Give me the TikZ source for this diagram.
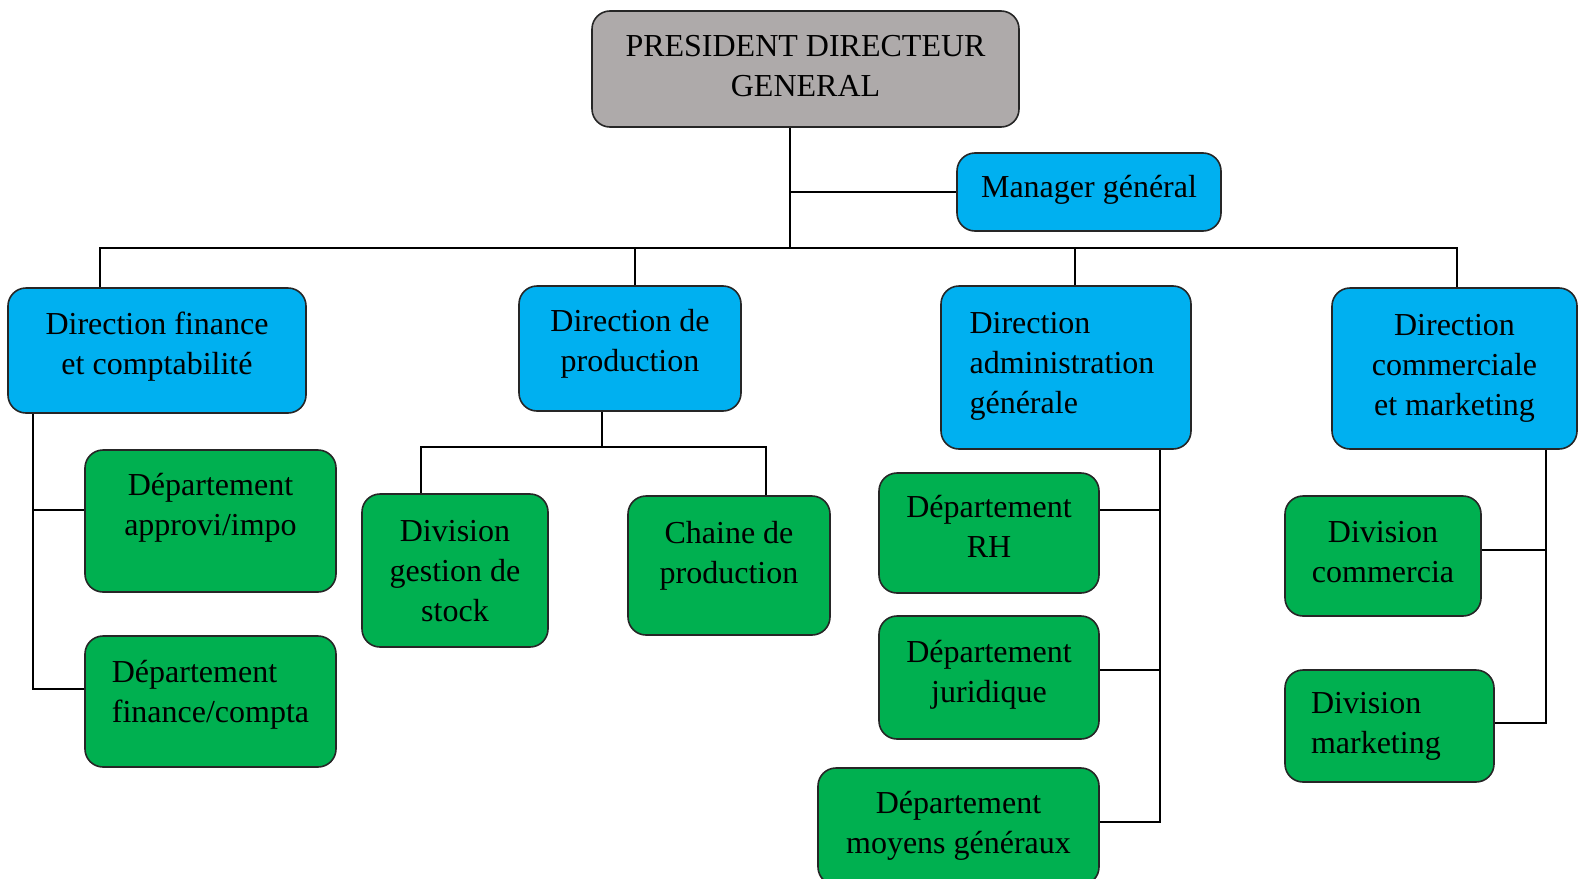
\documentclass[tikz,border=0pt]{standalone}
\usepackage{fontspec}
\setmainfont{Liberation Serif}
% text block lifted inside its box
\newcommand{\liftlines}[3]{\raisebox{#1}[\height][\depth]{\begin{tabular}{@{}#2@{}}#3\end{tabular}}}
\begin{document}
\begin{tikzpicture}[x=1pt, y=-1pt,
    orgBox/.style={draw=black!85, line width=1.6pt, rounded corners=18pt, align=center,
        inner sep=0pt, font=\fontsize{32}{40}\selectfont},
    headBox/.style={orgBox, fill=headColor},
    dirBox/.style={orgBox, fill=dirColor},
    deptBox/.style={orgBox, fill=deptColor},
    link/.style={line width=2pt, black}]
    % Define colors
    \definecolor{headColor}{RGB}{174,170,170}
    \definecolor{dirColor}{RGB}{0,176,240}
    \definecolor{deptColor}{RGB}{0,176,80}
    % Page frame
    \useasboundingbox (0,0) rectangle (1584,878);
    \clip (0,0) rectangle (1584,878);
    % Top level
    \node[headBox, minimum width=427pt, minimum height=116pt] (pdg) at (805.5,69) {\liftlines{0.5pt}{c}{PRESIDENT DIRECTEUR\\GENERAL}};
    \node[dirBox, minimum width=264pt, minimum height=78pt] (mgr) at (1089,192) {\liftlines{3pt}{c}{Manager général}};
    % Directions
    \node[dirBox, minimum width=298pt, minimum height=125pt] (fin) at (157,350.5) {\liftlines{4pt}{c}{Direction finance\\et comptabilité}};
    \node[dirBox, minimum width=222pt, minimum height=125pt] (prod) at (630,348.5) {\liftlines{5pt}{c}{Direction de\\production}};
    \node[dirBox, minimum width=250pt, minimum height=163pt] (adm) at (1066,367.5) {\liftlines{2pt}{l}{Direction\\administration\\générale}\hspace{8pt}};
    \node[dirBox, minimum width=245pt, minimum height=161pt] (com) at (1454.5,368.5) {\liftlines{1.5pt}{c}{Direction\\commerciale\\et marketing}};
    % Departments and divisions
    \node[deptBox, minimum width=251pt, minimum height=142pt] (appro) at (210.5,521) {\liftlines{14pt}{c}{Département\\approvi/impo}};
    \node[deptBox, minimum width=251pt, minimum height=131pt] (fincpt) at (210.5,701.5) {\liftlines{7.5pt}{l}{Département\\finance/compta}};
    \node[deptBox, minimum width=186pt, minimum height=153pt] (stock) at (455,570.5) {\liftlines{-3pt}{c}{Division\\gestion de\\stock}};
    \node[deptBox, minimum width=202pt, minimum height=139pt] (chaine) at (729,565.5) {\liftlines{10.5pt}{c}{Chaine de\\production}};
    \node[deptBox, minimum width=220pt, minimum height=120pt] (rh) at (989,533) {\liftlines{3.5pt}{c}{Département\\RH}};
    \node[deptBox, minimum width=220pt, minimum height=123pt] (jur) at (989,677.5) {\liftlines{3pt}{c}{Département\\juridique}};
    \node[deptBox, minimum width=281pt, minimum height=117pt] (moy) at (958.5,826.5) {\liftlines{1.5pt}{c}{Département\\moyens généraux}};
    \node[deptBox, minimum width=196pt, minimum height=120pt] (divcom) at (1383,556) {\liftlines{2pt}{c}{Division\\commercia}};
    \node[deptBox, align=left, text width=157pt, inner xsep=26pt, minimum width=209pt, minimum height=112pt] (divmkt) at (1389.5,726) {Division\\marketing};
    % Junctions
    \coordinate (trunk) at (790,248);
    \coordinate (pbus) at (602,447);
    % Connectors
    \draw[link] (trunk |- pdg.south) -- (trunk);
    \draw[link] (trunk |- mgr.west) -- (mgr.west);
    \draw[link] ([xshift=-57pt]fin.north) |- (trunk);
    \draw[link] ([xshift=5pt]prod.north) |- (trunk);
    \draw[link] ([xshift=9pt]adm.north) |- (trunk);
    \draw[link] ([xshift=2.5pt]com.north) |- (trunk);
    \draw[link] ([xshift=26pt]fin.south west) |- ([yshift=11pt]appro.west);
    \draw[link] ([xshift=26pt]fin.south west) |- ([yshift=13pt]fincpt.west);
    \draw[link] ([xshift=-28pt]prod.south) -- (pbus);
    \draw[link] ([xshift=-34pt]stock.north) |- (pbus) -| ([xshift=37pt]chaine.north);
    \draw[link] ([xshift=-32pt]adm.south east) |- ([yshift=23pt]rh.east);
    \draw[link] ([xshift=-32pt]adm.south east) |- ([yshift=7.5pt]jur.east);
    \draw[link] ([xshift=-32pt]adm.south east) |- ([yshift=5pt]moy.east);
    \draw[link] ([xshift=-32pt]com.south east) |- ([yshift=6pt]divcom.east);
    \draw[link] ([xshift=-32pt]com.south east) |- ([yshift=3pt]divmkt.east);
\end{tikzpicture}
\end{document}
